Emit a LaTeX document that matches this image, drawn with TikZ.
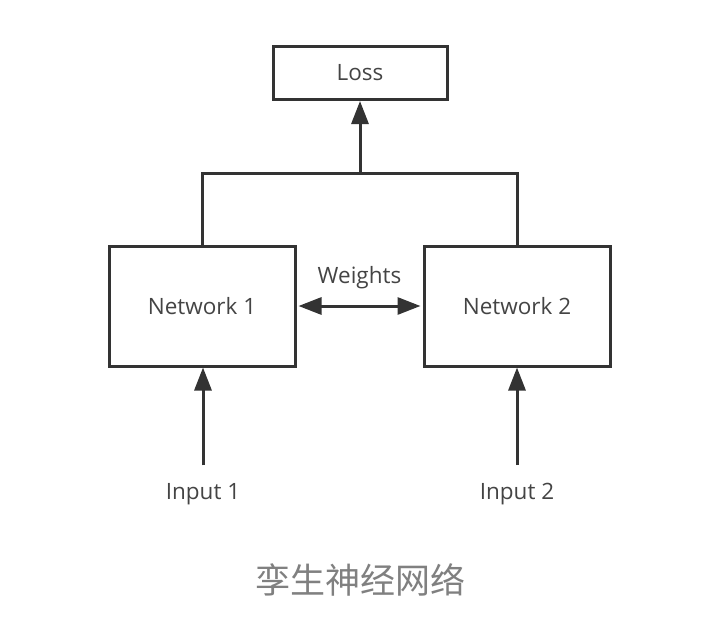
\documentclass[tikz,border=0pt]{standalone}
\usepackage{fontspec}
\setmainfont{Open Sans}
\newfontfamily\cjk{Noto Sans CJK SC}
\usetikzlibrary{arrows.meta,positioning}
\definecolor{ink}{HTML}{333333}
\definecolor{txt}{HTML}{444444}
\definecolor{cap}{HTML}{808080}

\begin{document}
\begin{tikzpicture}[x=1pt,y=-1pt,
    box/.style={draw=ink,line width=3pt,text=txt,font=\fontsize{22.5}{26}\selectfont},
    lbl/.style={text=txt,font=\fontsize{22.5}{26}\selectfont},
    >={Triangle[length=23pt,width=17pt]}]
      \useasboundingbox (0,0) rectangle (726,640);
      \node[box,minimum width=174pt,minimum height=53pt] (1) at (360,73) {Loss};
      \node[box,minimum width=186pt,minimum height=120pt] (2) at (202,306) {Network 1};
      \node[box,minimum width=186pt,minimum height=120pt,right=126pt of 2] (3) {Network 2};
      \node[lbl,anchor=base] (4) at (203,499) {Input 1};
      \node[lbl,anchor=base] (5) at (517,499) {Input 2};
      \node[text=cap,font=\cjk\fontsize{35}{40}\selectfont] (7) at (360,580) {孪生神经网络};
      \coordinate (6) at (360,173);

      \draw[ink,line width=3pt] (2.north) |- (6) -| (3.north);
      \draw[->,ink,line width=3pt] (6) -- (1.south);
      \draw[<->,ink,line width=3pt,shorten <=2pt,shorten >=2pt] (2) -- node[lbl,above=12pt] {Weights} (3);
      \draw[->,ink,line width=3pt,shorten <=14pt] (4.north) -- (4.north |- 2.south);
      \draw[->,ink,line width=3pt,shorten <=14pt] (5.north) -- (5.north |- 3.south);
    \end{tikzpicture}
\end{document}
